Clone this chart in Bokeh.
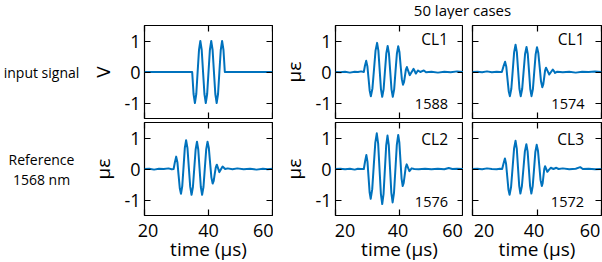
from bokeh.plotting import figure
from bokeh.models import Range1d, FixedTicker, LinearAxis, Label, CustomJSTickFormatter
from bokeh.layouts import row, column
from bokeh.embed import file_html
from bokeh.resources import INLINE

# ---------------- data ----------------
# input signal (V)
t_input = [20.0, 34.90, 35.33, 35.75, 36.18, 36.60, 37.03, 37.45, 37.88, 38.30,
           38.73, 39.15, 39.58, 40.00, 40.43, 40.85, 41.28, 41.70, 42.13, 42.55,
           42.98, 43.40, 43.83, 44.25, 44.68, 45.10, 60.0]
v_input = [0, 0, -0.71, -1, -0.71, 0, 0.71, 1, 0.71, 0,
           -0.71, -1, -0.71, 0, 0.71, 1, 0.71, 0, -0.71, -1,
           -0.71, 0, 0.71, 1, 0.71, 0, 0]

# Reference 1568 nm (micro-strain)
t_ref = [20.0, 21.5, 23.0, 24.5, 26.0, 27.5, 28.5, 29.1, 29.5, 29.9,
         30.28, 30.65, 31.03, 31.4, 31.8, 32.2, 32.6, 33.0, 33.43, 33.85,
         34.28, 34.7, 35.13, 35.55, 35.98, 36.4, 36.8, 37.2, 37.6, 38.0,
         38.43, 38.85, 39.28, 39.7, 40.1, 40.5, 40.9, 41.3, 41.63, 41.95,
         42.28, 42.6, 43.0, 43.4, 43.9, 44.4, 45.2, 46.0, 47.5, 49.0,
         51.0, 53.0, 55.0, 57.0, 58.5, 60.0]
v_ref = [0.0, 0.01, -0.02, 0.01, 0.0, 0.02, -0.01, 0.0, 0.22, 0.40,
         0.22, -0.20, -0.62, -0.80, -0.55, 0.06, 0.68, 0.93, 0.67, 0.05,
         -0.57, -0.83, -0.58, 0.02, 0.63, 0.88, 0.63, 0.02, -0.58, -0.83,
         -0.58, 0.02, 0.63, 0.88, 0.68, 0.20, -0.27, -0.47, -0.38, -0.16,
         0.05, 0.14, 0.02, -0.10, -0.01, 0.08, 0.0, 0.02, -0.01, 0.02,
         -0.01, 0.01, -0.02, 0.01, -0.01, 0.01]

# CL1, 1588
t_cl1_1588 = [20.0, 21.5, 23.0, 24.5, 26.0, 27.0, 28.0, 28.85, 29.2, 29.6,
              29.96, 30.33, 30.69, 31.05, 31.54, 32.03, 32.51, 33.0, 33.4, 33.8,
              34.2, 34.6, 35.03, 35.45, 35.88, 36.3, 36.7, 37.1, 37.5, 37.9,
              38.33, 38.75, 39.18, 39.6, 39.98, 40.35, 40.73, 41.1, 41.4, 41.7,
              42.0, 42.3, 42.75, 43.2, 43.8, 44.4, 44.75, 45.1, 45.45, 45.8,
              46.5, 47.6, 48.3, 50.0, 52.0, 54.0, 56.0, 58.0, 60.0]
v_cl1_1588 = [0.0, -0.01, 0.01, -0.02, 0.01, 0.0, 0.02, 0.0, 0.20, 0.36,
              0.19, -0.21, -0.61, -0.78, -0.53, 0.08, 0.69, 0.94, 0.69, 0.07,
              -0.55, -0.80, -0.56, 0.02, 0.60, 0.84, 0.60, 0.02, -0.56, -0.80,
              -0.56, 0.02, 0.59, 0.83, 0.65, 0.21, -0.23, -0.41, -0.33, -0.13,
              0.08, 0.16, 0.03, -0.10, 0.0, 0.10, 0.03, -0.05, 0.0, 0.05,
              0.0, 0.05, -0.01, 0.01, -0.02, 0.01, -0.01, 0.02, 0.0]

# CL1, 1574
t_cl1_1574 = [20.0, 21.5, 23.0, 24.5, 26.0, 27.5, 28.5, 29.1, 29.6, 30.1,
              30.48, 30.85, 31.23, 31.6, 32.04, 32.48, 32.91, 33.35, 33.75, 34.15,
              34.55, 34.95, 35.4, 35.85, 36.3, 36.75, 37.14, 37.53, 37.91, 38.3,
              38.73, 39.15, 39.58, 40.0, 40.41, 40.83, 41.24, 41.65, 41.94, 42.23,
              42.51, 42.8, 43.3, 43.8, 44.35, 44.9, 45.25, 45.6, 46.3, 48.0,
              50.0, 52.0, 54.0, 56.0, 58.0, 60.0]
v_cl1_1574 = [0.0, 0.01, -0.01, 0.02, -0.01, 0.01, 0.0, 0.0, 0.18, 0.33,
              0.17, -0.23, -0.62, -0.78, -0.54, 0.05, 0.64, 0.88, 0.64, 0.05,
              -0.54, -0.78, -0.55, 0.02, 0.58, 0.81, 0.58, 0.02, -0.55, -0.78,
              -0.55, 0.01, 0.57, 0.80, 0.61, 0.16, -0.30, -0.49, -0.40, -0.18,
              0.05, 0.14, 0.03, -0.08, 0.0, 0.08, 0.03, -0.03, 0.01, -0.01,
              0.01, -0.02, 0.01, 0.0, 0.02, 0.0]

# CL2, 1576
t_cl2_1576 = [20.0, 21.5, 23.0, 24.5, 26.0, 27.0, 28.0, 28.85, 29.25, 29.65,
              29.99, 30.33, 30.66, 31.0, 31.48, 31.95, 32.43, 32.9, 33.33, 33.75,
              34.18, 34.6, 35.01, 35.43, 35.84, 36.25, 36.65, 37.05, 37.45, 37.85,
              38.29, 38.73, 39.16, 39.6, 39.95, 40.3, 40.65, 41.0, 41.31, 41.63,
              41.94, 42.25, 42.68, 43.1, 43.8, 44.6, 46.0, 48.0, 50.0, 52.0,
              54.0, 55.4, 56.5, 58.0, 60.0]
v_cl2_1576 = [0.0, 0.01, -0.01, 0.01, -0.02, 0.01, 0.0, 0.0, 0.25, 0.45,
              0.24, -0.26, -0.75, -0.96, -0.65, 0.10, 0.84, 1.15, 0.82, 0.01,
              -0.80, -1.13, -0.81, -0.02, 0.76, 1.08, 0.77, 0.0, -0.77, -1.08,
              -0.76, 0.01, 0.78, 1.10, 0.86, 0.28, -0.31, -0.55, -0.45, -0.20,
              0.05, 0.15, 0.04, -0.07, 0.02, 0.0, -0.01, 0.01, -0.01, 0.01,
              -0.01, 0.03, 0.0, 0.01, 0.0]

# CL3, 1572
t_cl3_1572 = [20.0, 21.5, 23.0, 24.5, 26.0, 27.5, 28.5, 29.2, 29.62, 30.05,
              30.41, 30.78, 31.14, 31.5, 31.96, 32.43, 32.89, 33.35, 33.73, 34.1,
              34.48, 34.85, 35.31, 35.78, 36.24, 36.7, 37.09, 37.48, 37.86, 38.25,
              38.66, 39.08, 39.49, 39.9, 40.3, 40.7, 41.1, 41.5, 41.75, 42.0,
              42.25, 42.5, 42.85, 43.2, 43.75, 44.3, 45.1, 46.0, 46.7, 48.0,
              50.0, 52.0, 53.4, 54.2, 56.0, 58.0, 60.0]
v_cl3_1572 = [0.0, 0.01, -0.01, 0.02, 0.0, -0.01, 0.01, 0.0, 0.18, 0.34,
              0.17, -0.25, -0.66, -0.83, -0.58, 0.04, 0.66, 0.91, 0.66, 0.06,
              -0.54, -0.79, -0.56, 0.0, 0.57, 0.80, 0.57, 0.0, -0.56, -0.79,
              -0.56, -0.01, 0.55, 0.78, 0.59, 0.12, -0.36, -0.55, -0.46, -0.23,
              0.0, 0.09, 0.0, -0.09, -0.02, 0.04, 0.0, 0.04, 0.0, 0.02,
              -0.01, 0.01, 0.06, 0.0, 0.01, -0.01, 0.0]

x_tick_values = [20, 40, 60]
x_tick_labels = ["20", "40", "60"]
y_tick_values = [-1, 0, 1]
y_tick_labels = ["-1", "0", "1"]
row_texts = ["input signal", "Reference", "1568 nm"]
group_title = "50 layer cases"
case_names = ["CL1", "CL1", "CL2", "CL3"]
case_wavelengths = ["1588", "1574", "1576", "1572"]
x_title = "time (µs)"
y_titles = ["V", "µε"]

# ---------------- styling ----------------
FONT = "Open Sans"
BLUE = "#0072BD"
FRAME_H = 93
TICK_LEN = 6
LW = 1.2
BASE_FIX = 0.39   # em offset between requested and drawn text baseline


def blank_formatter():
    return CustomJSTickFormatter(code="return '';")


def style_axis(ax, labelled):
    ax.axis_line_color = None
    ax.major_tick_in = TICK_LEN
    ax.major_tick_out = 0
    ax.minor_tick_in = 0
    ax.minor_tick_out = 0
    ax.major_tick_line_color = "black"
    ax.major_tick_line_width = LW
    ax.major_label_text_font = FONT
    ax.major_label_text_font_size = "18px"
    ax.major_label_text_color = "black"
    ax.axis_label_text_font = FONT
    ax.axis_label_text_font_size = "19px"
    ax.axis_label_text_font_style = "normal"
    ax.axis_label_text_color = "black"
    if not labelled:
        ax.formatter = blank_formatter()
        ax.major_label_text_font_size = "0px"
        ax.major_label_standoff = 0


def panel(t, v, frame_w, borders, ylab=None, xlab=False, shift_px=None,
          case=None, case_off=None):
    left, right, top, bottom = borders
    p = figure(frame_width=frame_w, frame_height=FRAME_H,
               x_range=Range1d(20, 60), y_range=Range1d(-1.5, 1.5),
               min_border_left=left, min_border_right=right,
               min_border_top=top, min_border_bottom=bottom,
               output_backend="svg", toolbar_location=None)
    p.grid.visible = False
    p.outline_line_color = "black"
    p.outline_line_width = LW
    p.outline_line_alpha = 1
    p.background_fill_color = "white"
    p.border_fill_color = "white"
    p.line(t, v, line_color=BLUE, line_width=2, line_join="round")

    ya = p.yaxis[0]
    xa = p.xaxis[0]
    ya.ticker = FixedTicker(ticks=y_tick_values)
    style_axis(ya, ylab is not None)
    if ylab is not None:
        ya.formatter = CustomJSTickFormatter(args=dict(labels=y_tick_labels),
                                             code="return labels[index];")
        ya.axis_label = ylab
        ya.major_label_standoff = 4
        ya.axis_label_standoff = 5

    if xlab:
        per_px = 40.0 / frame_w
        pos = [tv + s * per_px for tv, s in zip(x_tick_values, shift_px)]
        xa.ticker = FixedTicker(ticks=pos, minor_ticks=x_tick_values)
        style_axis(xa, True)
        xa.formatter = CustomJSTickFormatter(args=dict(labels=x_tick_labels),
                                             code="return labels[index];")
        xa.major_tick_in = 0
        xa.major_tick_line_color = None
        xa.minor_tick_in = TICK_LEN
        xa.minor_tick_line_color = "black"
        xa.minor_tick_line_width = LW
        xa.axis_label = x_title
        xa.major_label_standoff = 8
        xa.axis_label_standoff = -4
    else:
        xa.ticker = FixedTicker(ticks=x_tick_values)
        style_axis(xa, False)

    ra = LinearAxis(ticker=FixedTicker(ticks=y_tick_values))
    style_axis(ra, False)
    p.add_layout(ra, "right")
    ta = LinearAxis(ticker=FixedTicker(ticks=x_tick_values))
    style_axis(ta, False)
    p.add_layout(ta, "above")

    if case is not None:
        name, wl = case
        dx, dy_name, dy_wl = case_off
        xr = 60 - dx * 40.0 / frame_w
        p.add_layout(Label(x=xr, y=1.5 - (dy_name - BASE_FIX * 15.5) * 3.0 / FRAME_H, text=name,
                           text_align="right", text_baseline="alphabetic",
                           text_font=FONT, text_font_size="15.5px", text_color="black"))
        p.add_layout(Label(x=xr, y=1.5 - (dy_wl - BASE_FIX * 14.5) * 3.0 / FRAME_H, text=wl,
                           text_align="right", text_baseline="alphabetic",
                           text_font=FONT, text_font_size="14.5px", text_color="black"))
    return p


TEXT_W = 82
TITLE_H = 19
# left column of row texts
tf = figure(frame_width=TEXT_W, frame_height=262, x_range=Range1d(0, TEXT_W), y_range=Range1d(262, 0),
            min_border=0, x_axis_location=None, y_axis_location=None,
            output_backend="svg", toolbar_location=None)
tf.outline_line_color = None
tf.grid.visible = False
for txt, yb in zip(row_texts, [77, 164, 184]):
    tf.add_layout(Label(x=41, y=yb - BASE_FIX * 14, text=txt, text_align="center",
                        text_baseline="alphabetic",
                        text_font=FONT, text_font_size="14px", text_color="black"))

# group title
ttl = figure(frame_width=322, frame_height=TITLE_H, x_range=Range1d(280, 602),
             y_range=Range1d(TITLE_H, 0),
             min_border=0, x_axis_location=None, y_axis_location=None,
             output_backend="svg", toolbar_location=None)
ttl.outline_line_color = None
ttl.grid.visible = False
ttl.add_layout(Label(x=469, y=15 - BASE_FIX * 15, text=group_title, text_align="center",
                     text_baseline="alphabetic",
                     text_font=FONT, text_font_size="15px", text_color="black"))

p_in = panel(t_input, v_input, 128, (144 - TEXT_W, 1, 25, 2), ylab=y_titles[0])
p_ref = panel(t_ref, v_ref, 128, (144 - TEXT_W, 1, 2, 47), ylab=y_titles[1], xlab=True,
              shift_px=[3.5, 0, -2])
p_a = panel(t_cl1_1588, v_cl1_1588, 128, (62, 0, 25 - TITLE_H, 2), ylab=y_titles[1],
            case=(case_names[0], case_wavelengths[0]), case_off=(15.5, 44.3 - 25, 109.3 - 25))
p_c = panel(t_cl2_1576, v_cl2_1576, 128, (62, 0, 2, 47), ylab=y_titles[1], xlab=True,
            shift_px=[9.5, -1.5, -11],
            case=(case_names[2], case_wavelengths[2]), case_off=(15.5, 144.7 - 122, 207.3 - 122))
p_b = panel(t_cl1_1574, v_cl1_1574, 129, (9, 1, 25 - TITLE_H, 2),
            case=(case_names[1], case_wavelengths[1]), case_off=(17, 44.3 - 25, 108.8 - 25))
p_d = panel(t_cl3_1572, v_cl3_1572, 129, (9, 1, 2, 47), xlab=True,
            shift_px=[11.5, -3, -11.5],
            case=(case_names[3], case_wavelengths[3]), case_off=(17.5, 144.7 - 122, 207.3 - 122))

layout = row(tf,
             column(p_in, p_ref),
             column(ttl, row(column(p_a, p_c), column(p_b, p_d))))

open("out.html", "w").write(file_html(layout, INLINE))
